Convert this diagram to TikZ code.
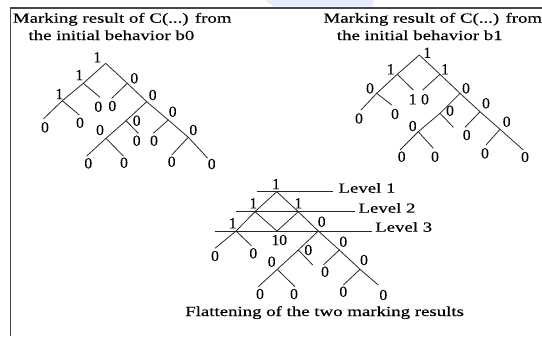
\documentclass[tikz,border=0pt]{standalone}
\usepackage{fontspec}
\newfontfamily\txtfont{Liberation Serif}[FakeStretch=1.35,FakeBold=0.35]
\newfontfamily\digfont{Liberation Serif}[FakeBold=0.35]
\definecolor{framegray}{RGB}{70,70,70}
\definecolor{haze}{RGB}{228,238,250}
\tikzset{
  edge/.style={draw=black!85, line width=0.8pt},
  levelline/.style={draw=black!85, line width=0.8pt},
  val/.style={inner sep=0pt, font=\digfont\fontsize{15.5}{15.5}\selectfont},
  caption/.style={inner sep=0pt, anchor=base west, font=\txtfont\fontsize{14}{16}\selectfont},
  frameline/.style={draw=framegray, line width=1.3pt}
}
\begin{document}
\begin{tikzpicture}[x=1bp, y=-1bp]
\useasboundingbox (0,0) rectangle (542,336);
% pale band above the frame
\fill[haze] (265,0) -- (374,0) -- (372,6.5) -- (273,6.5) -- cycle;
% frame (top and left sides)
\coordinate (fa) at (10.5,8);
\coordinate (fb) at (542,8);
\coordinate (fc) at (10.5,336);
\draw[frameline] (fb) -- (fa) -- (fc);

% ---------- captions ----------
\node[caption] (t1a) at (12.7,22.7) {Marking result of C(...) from};
\node[caption] (t1b) at (28.3,40) {the initial behavior b0};
\node[caption] (t2a) at (323.3,22.7) {Marking result of C(...) from};
\node[caption] (t2b) at (336.7,40) {the initial behavior b1};
\node[caption] (t3) at (185,316) {Flattening of the two marking results};

% ---------- tree from b0 ----------
\coordinate (pr) at (105.7,63.3);
\coordinate (pa) at (83.3,83.3);
\coordinate (paa) at (62.3,100.7);
\coordinate (pl1) at (43.3,119);
\coordinate (pl2) at (100,97.3);
\coordinate (pl3) at (79.3,115);
\coordinate (pb) at (127.3,83.3);
\coordinate (pl4) at (111.7,98.3);
\coordinate (pc) at (146.7,101.7);
\coordinate (pd) at (126,120.7);
\coordinate (pl5) at (138.3,133.3);
\coordinate (pe) at (106,138.3);
\coordinate (pl6) at (86.7,156);
\coordinate (pl7) at (123.3,156);
\coordinate (pf) at (168.3,120);
\coordinate (pl8) at (153.3,133.3);
\coordinate (pg) at (188.3,137.3);
\coordinate (pl9) at (171.7,155);
\coordinate (pl10) at (207.5,158);
\draw[edge] (pr) -- (pa) -- (paa) -- (pl1);
\draw[edge] (pa) -- (pl2);
\draw[edge] (paa) -- (pl3);
\draw[edge] (pr) -- (pb) -- (pc) -- (pf) -- (pg) -- (pl10);
\draw[edge] (pb) -- (pl4);
\draw[edge] (pc) -- (pd) -- (pe) -- (pl6);
\draw[edge] (pd) -- (pl5);
\draw[edge] (pe) -- (pl7);
\draw[edge] (pf) -- (pl8);
\draw[edge] (pg) -- (pl9);
\node[val] (vpr) at (97.3,57.3) {1};
\node[val] (vpa) at (79.3,75) {1};
\node[val] (vpaa) at (59.3,94) {1};
\node[val] (vpl1) at (45,127.3) {0};
\node[val] (vpl2) at (98.3,106.7) {0};
\node[val] (vpl3) at (80,122.7) {0};
\node[val] (vpb) at (134.3,78.3) {0};
\node[val] (vpl4) at (112.3,106) {0};
\node[val] (vpc) at (152.7,95) {0};
\node[val] (vpd) at (136.7,120.7) {0};
\node[val] (vpl5) at (136.7,140.7) {0};
\node[val] (vpe) at (100,130) {0};
\node[val] (vpl6) at (88.3,163.3) {0};
\node[val] (vpl7) at (124,162.7) {0};
\node[val] (vpf) at (172.7,111.7) {0};
\node[val] (vpl8) at (154,140.7) {0};
\node[val] (vpg) at (193.3,130) {0};
\node[val] (vpl9) at (171.7,161.7) {0};
\node[val] (vpl10) at (211.7,164) {0};

% ---------- tree from b1 ----------
\coordinate (qr) at (419.3,55);
\coordinate (qa) at (397.3,74.3);
\coordinate (qaa) at (376.7,93.3);
\coordinate (ql1) at (361,110);
\coordinate (ql2) at (413.3,90);
\coordinate (ql3) at (391.7,105);
\coordinate (qb) at (440,74.3);
\coordinate (ql4) at (422.7,90);
\coordinate (qc) at (460,93.3);
\coordinate (qd) at (440,113.3);
\coordinate (ql5) at (453.3,127.3);
\coordinate (qe) at (418.3,131.7);
\coordinate (ql6) at (400,150);
\coordinate (ql7) at (433.3,148.3);
\coordinate (qf) at (480,111.7);
\coordinate (ql8) at (465,127.3);
\coordinate (qg) at (500,129.3);
\coordinate (ql9) at (486,145);
\coordinate (ql10) at (523.3,150);
\draw[edge] (qr) -- (qa) -- (qaa) -- (ql1);
\draw[edge] (qa) -- (ql2);
\draw[edge] (qaa) -- (ql3);
\draw[edge] (qr) -- (qb) -- (qc) -- (qf) -- (qg) -- (ql10);
\draw[edge] (qb) -- (ql4);
\draw[edge] (qc) -- (qd) -- (qe) -- (ql6);
\draw[edge] (qd) -- (ql5);
\draw[edge] (qe) -- (ql7);
\draw[edge] (qf) -- (ql8);
\draw[edge] (qg) -- (ql9);
\node[val] (vqr) at (427.3,52.7) {1};
\node[val] (vqa) at (390.7,69.3) {1};
\node[val] (vqaa) at (370,88.3) {0};
\node[val] (vql1) at (359,118.5) {0};
\node[val] (vql2) at (412.7,99.3) {1};
\node[val] (vql3) at (395,114) {0};
\node[val] (vqb) at (445,69.3) {1};
\node[val] (vql4) at (425,99.3) {0};
\node[val] (vqc) at (466,88.3) {0};
\node[val] (vqd) at (450,110.7) {0};
\node[val] (vqe) at (412.7,126) {0};
\node[val] (vql6) at (401.7,156.7) {0};
\node[val] (vql7) at (435,156.7) {0};
\node[val] (vqf) at (486,103.3) {0};
\node[val] (vql8) at (466.7,135) {0};
\node[val] (vqg) at (506.7,121.7) {0};
\node[val] (vql9) at (485,153.3) {0};
\node[val] (vql10) at (525,157) {0};

% ---------- flattened tree ----------
\coordinate (h1a) at (256.7,191.7);
\coordinate (h1b) at (332.7,191.7);
\coordinate (h2a) at (236,211.7);
\coordinate (h2b) at (355,211.7);
\coordinate (h3a) at (215,231);
\coordinate (h3b) at (371.7,231);
\draw[levelline] (h1a) -- (h1b);
\draw[levelline] (h2a) -- (h2b);
\draw[levelline] (h3a) -- (h3b);
\node[caption] (lv1) at (338.3,192.7) {Level 1};
\node[caption] (lv2) at (358.3,212.7) {Level 2};
\node[caption] (lv3) at (375,231.7) {Level 3};

\coordinate (sr) at (276.7,191.7);
\coordinate (sa) at (255,211.7);
\coordinate (sb) at (298.3,211.7);
\coordinate (sm) at (277,231);
\coordinate (saa) at (236,231);
\coordinate (sc) at (318.3,231);
\coordinate (sl1) at (215,248.3);
\coordinate (sl2) at (251.7,246);
\coordinate (sd) at (298.3,250);
\coordinate (sl5) at (312.7,265);
\coordinate (se) at (277.3,269.3);
\coordinate (sl6) at (258.3,286.7);
\coordinate (sl7) at (295,286.7);
\coordinate (sf) at (339.3,250);
\coordinate (sl8) at (323.3,265);
\coordinate (sg) at (360,269.3);
\coordinate (sl9) at (343.3,285);
\coordinate (sl10) at (378.3,285);
\draw[edge] (sr) -- (sa) -- (saa) -- (sl1);
\draw[edge] (sa) -- (sm) -- (sb);
\draw[edge] (saa) -- (sl2);
\draw[edge] (sr) -- (sb) -- (sc) -- (sf) -- (sg) -- (sl10);
\draw[edge] (sc) -- (sd) -- (se) -- (sl6);
\draw[edge] (sd) -- (sl5);
\draw[edge] (se) -- (sl7);
\draw[edge] (sf) -- (sl8);
\draw[edge] (sg) -- (sl9);
\node[val] (vsr) at (276,184) {1};
\node[val] (vsa) at (253.3,203.3) {1};
\node[val] (vsb) at (298.3,203.3) {1};
\node[val] (vsm) at (279.3,240) {10};
\node[val] (vsaa) at (232.7,223.3) {1};
\node[val] (vsc) at (321.7,221.7) {0};
\node[val] (vsl1) at (215,256) {0};
\node[val] (vsl2) at (253.3,253.3) {0};
\node[val] (vsd) at (308.3,250) {0};
\node[val] (vse) at (271.7,261.7) {0};
\node[val] (vsl6) at (260,294) {0};
\node[val] (vsl7) at (294,294) {0};
\node[val] (vsf) at (343.3,241.7) {0};
\node[val] (vsl8) at (325,271.7) {0};
\node[val] (vsg) at (364,260) {0};
\node[val] (vsl9) at (343.3,291.7) {0};
\node[val] (vsl10) at (383.3,295) {0};
\end{tikzpicture}
\end{document}
